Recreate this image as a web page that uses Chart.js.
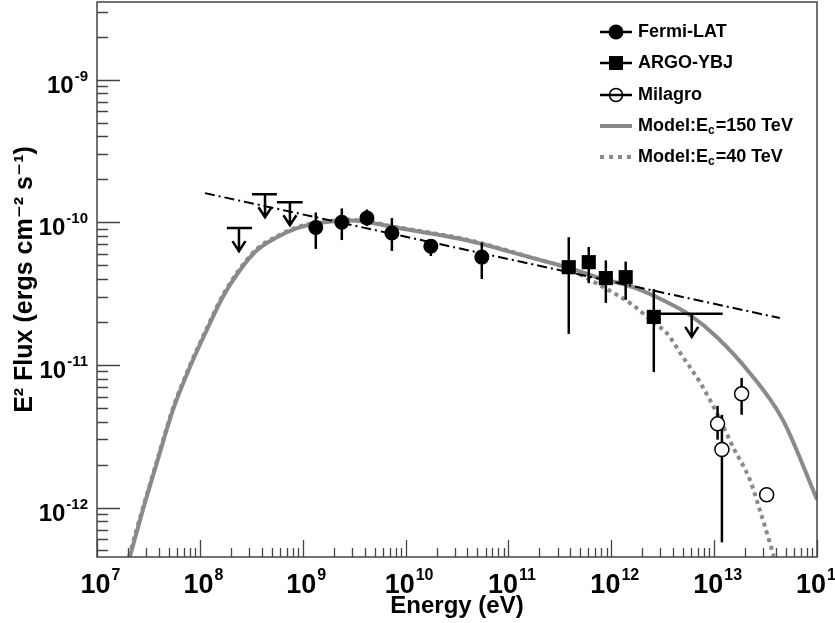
<!DOCTYPE html>
<html>
<head>
<meta charset="utf-8">
<script src="https://cdn.jsdelivr.net/npm/chart.js@4"></script>
<style>
  html, body { margin: 0; padding: 0; background: #fff; }
  #wrap { width: 835px; height: 623px; }
</style>
</head>
<body>
<div id="wrap"><canvas id="sed"></canvas></div>
<script>
// Fermi-LAT fluxes (E^2 dN/dE, erg cm^-2 s^-1) and error bar ends
const fermiE = [1.34e9, 2.40e9, 4.21e9, 7.36e9, 1.76e10, 5.51e10];
const fermiF = [9.2e-11, 1.0e-10, 1.07e-10, 8.4e-11, 6.8e-11, 5.7e-11];
const fermiHi = [1.17e-10, 1.25e-10, 1.23e-10, 1.07e-10, 7.5e-11, 7.2e-11];
const fermiLo = [6.5e-11, 7.5e-11, 9.4e-11, 6.3e-11, 5.8e-11, 4.0e-11];
// Fermi-LAT upper limits and their energy bins
const fermiUlE = [2.40e8, 4.30e8, 7.51e8];
const fermiUlF = [9.1e-11, 1.57e-10, 1.38e-10];
const fermiUlMin = [1.83e8, 3.21e8, 5.61e8];
const fermiUlMax = [3.21e8, 5.61e8, 1.0e9];

// ARGO-YBJ
const argoE = [3.86e11, 6.04e11, 8.85e11, 1.38e12, 2.59e12];
const argoF = [4.84e-11, 5.25e-11, 4.06e-11, 4.12e-11, 2.17e-11];
const argoHi = [7.85e-11, 6.7e-11, 5.4e-11, 5.3e-11, 3.4e-11];
const argoLo = [1.65e-11, 3.74e-11, 2.72e-11, 2.86e-11, 8.9e-12];
const argoUlE = [6.05e12];
const argoUlF = [2.28e-11];
const argoUlMin = [2.96e12];
const argoUlMax = [1.21e13];

// Milagro
const milagroE = [1.08e13, 1.19e13, 1.85e13, 3.24e13];
const milagroF = [3.86e-12, 2.55e-12, 6.27e-12, 1.23e-12];
const milagroHi = [5.16e-12, 4.47e-12, 8.1e-12, null];
const milagroLo = [2.99e-12, 5.7e-13, 4.47e-12, null];

// model curves
const model150E = [2.09e7, 2.80e7, 3.83e7, 5.48e7, 8.02e7, 1.17e8, 1.67e8, 2.45e8, 3.59e8, 5.61e8, 8.79e8, 1.37e9, 2.88e9, 8.81e9, 3.94e10, 1.73e11, 3.70e11, 7.73e11, 1.62e12, 3.46e12, 5.79e12, 1.06e13, 2.22e13, 4.65e13, 1.0e14];
const model150F = [4.54e-13, 9.68e-13, 2.07e-12, 4.84e-12, 9.68e-12, 1.76e-11, 2.99e-11, 4.61e-11, 6.37e-11, 7.85e-11, 9.08e-11, 9.84e-11, 1.03e-10, 9.08e-11, 7.48e-11, 5.60e-11, 4.84e-11, 4.06e-11, 3.51e-11, 2.76e-11, 2.24e-11, 1.57e-11, 8.79e-12, 4.12e-12, 1.14e-12];
const model40E = [2.05e7, 2.80e7, 3.83e7, 5.48e7, 8.02e7, 1.17e8, 1.67e8, 2.45e8, 3.59e8, 5.61e8, 8.79e8, 1.37e9, 2.88e9, 8.81e9, 3.94e10, 1.73e11, 3.70e11, 7.73e11, 1.62e12, 2.53e12, 3.46e12, 4.95e12, 7.24e12, 1.06e13, 1.52e13, 2.22e13, 2.77e13, 3.47e13, 3.79e13];
const model40F = [4.54e-13, 1.0e-12, 2.13e-12, 4.98e-12, 9.95e-12, 1.81e-11, 3.07e-11, 4.72e-11, 6.50e-11, 7.98e-11, 9.20e-11, 9.95e-11, 1.04e-10, 9.15e-11, 7.55e-11, 5.62e-11, 4.76e-11, 3.62e-11, 2.63e-11, 2.00e-11, 1.67e-11, 1.14e-11, 7.60e-12, 4.61e-12, 2.67e-12, 1.57e-12, 9.68e-13, 5.69e-13, 4.54e-13];
// power law fit (dash-dot)
const plawE = [1.12e8, 4.35e13];
const plawF = [1.60e-10, 2.13e-11];

// axes
const xDecades = [7, 8, 9, 10, 11, 12, 13, 14];
const yDecades = [-12, -11, -10, -9];

const FONT = "'Liberation Sans', Arial, 'DejaVu Sans', sans-serif";
const GRAY = '#8a8a8a';
const AXIS = '#444';

function pts(xs, ys) {
  return xs.map((x, i) => ({x: x, y: ys[i]}));
}

// vertical error bars, drawn just before the markers of a dataset
const errorBars = {
  id: 'errorBars',
  beforeDatasetDraw(chart, args) {
    const ds = chart.data.datasets[args.index];
    if (!ds.errHi) return;
    const {ctx, scales: {x, y}} = chart;
    ctx.save();
    ctx.strokeStyle = '#000';
    ctx.lineWidth = 2.5;
    ds.data.forEach((p, i) => {
      if (ds.errHi[i] == null) return;
      const px = x.getPixelForValue(p.x);
      ctx.beginPath();
      ctx.moveTo(px, y.getPixelForValue(ds.errHi[i]));
      ctx.lineTo(px, y.getPixelForValue(ds.errLo[i]));
      ctx.stroke();
    });
    ctx.restore();
  }
};

function drawUL(ctx, x, y, e, f, eMin, eMax) {
  const px = x.getPixelForValue(e);
  const py = y.getPixelForValue(f);
  ctx.beginPath();
  ctx.moveTo(x.getPixelForValue(eMin), py);
  ctx.lineTo(x.getPixelForValue(eMax), py);
  ctx.moveTo(px, py);
  ctx.lineTo(px, py + 23);
  ctx.moveTo(px - 6.5, py + 13);
  ctx.lineTo(px, py + 23);
  ctx.lineTo(px + 6.5, py + 13);
  ctx.stroke();
}

const upperLimits = {
  id: 'upperLimits',
  afterDatasetsDraw(chart) {
    const {ctx, scales: {x, y}} = chart;
    ctx.save();
    ctx.strokeStyle = '#000';
    ctx.lineWidth = 2.5;
    fermiUlE.forEach((e, i) => drawUL(ctx, x, y, e, fermiUlF[i], fermiUlMin[i], fermiUlMax[i]));
    argoUlE.forEach((e, i) => drawUL(ctx, x, y, e, argoUlF[i], argoUlMin[i], argoUlMax[i]));
    ctx.restore();
  }
};

// frame, inward ticks and 10^n labels
const frame = {
  id: 'frame',
  afterDraw(chart) {
    const {ctx, chartArea: a, scales: {x, y}} = chart;
    ctx.save();
    ctx.strokeStyle = AXIS;
    ctx.lineWidth = 1.5;
    ctx.strokeRect(a.left, a.top, a.right - a.left, a.bottom - a.top);
    ctx.lineWidth = 1.3;
    ctx.beginPath();
    for (let n = 6; n <= 14; n++) {
      for (let m = 1; m <= 9; m++) {
        const v = m * Math.pow(10, n);
        if (v < x.min || v > x.max) continue;
        const px = Math.round(x.getPixelForValue(v)) + 0.5;
        ctx.moveTo(px, a.bottom);
        ctx.lineTo(px, a.bottom - (m === 1 ? 17 : 9));
      }
    }
    for (let n = -13; n <= -9; n++) {
      for (let m = 1; m <= 9; m++) {
        const v = m * Math.pow(10, n);
        if (v < y.min || v > y.max) continue;
        const py = Math.round(y.getPixelForValue(v)) + 0.5;
        ctx.moveTo(a.left, py);
        ctx.lineTo(a.left + (m === 1 ? 23 : 11), py);
      }
    }
    ctx.stroke();

    ctx.fillStyle = '#000';
    ctx.textBaseline = 'alphabetic';
    ctx.textAlign = 'left';
    xDecades.forEach(n => {
      const px = x.getPixelForValue(Math.pow(10, n));
      ctx.font = 'bold 27px ' + FONT;
      const w1 = ctx.measureText('10').width;
      ctx.font = 'bold 16px ' + FONT;
      const w2 = ctx.measureText(String(n)).width;
      const x0 = px - (w1 + w2) / 2 + 3;
      ctx.font = 'bold 27px ' + FONT;
      ctx.fillText('10', x0, a.bottom + 36);
      ctx.font = 'bold 16px ' + FONT;
      ctx.fillText(String(n), x0 + w1 + 1, a.bottom + 23);
    });
    yDecades.forEach(n => {
      const py = y.getPixelForValue(Math.pow(10, n));
      ctx.font = 'bold 15px ' + FONT;
      const w2 = ctx.measureText(String(n)).width;
      ctx.font = 'bold 24px ' + FONT;
      const w1 = ctx.measureText('10').width;
      const x1 = a.left - 9;
      ctx.fillText('10', x1 - w2 - w1 - 1, py + 13);
      ctx.font = 'bold 15px ' + FONT;
      ctx.fillText(String(n), x1 - w2, py + 1);
    });
    ctx.restore();
  }
};

// legend box in the upper right corner
const legendBox = {
  id: 'legendBox',
  afterDraw(chart) {
    const ctx = chart.ctx;
    const x0 = 600, x1 = 632, xm = 616, xt = 638;
    const rows = [32, 63, 95, 126, 157];
    ctx.save();
    ctx.strokeStyle = '#000';
    ctx.fillStyle = '#000';
    ctx.lineWidth = 2.5;
    rows.slice(0, 3).forEach(r => {
      ctx.beginPath();
      ctx.moveTo(x0, r);
      ctx.lineTo(x1, r);
      ctx.stroke();
    });
    ctx.beginPath();
    ctx.arc(xm, rows[0], 7.5, 0, Math.PI * 2);
    ctx.fill();
    ctx.fillRect(xm - 7, rows[1] - 7, 14, 14);
    ctx.lineWidth = 1.5;
    ctx.beginPath();
    ctx.arc(xm, rows[2], 6.5, 0, Math.PI * 2);
    ctx.stroke();

    ctx.strokeStyle = GRAY;
    ctx.lineWidth = 4;
    ctx.beginPath();
    ctx.moveTo(x0, rows[3]);
    ctx.lineTo(x1, rows[3]);
    ctx.stroke();
    ctx.setLineDash([4, 5]);
    ctx.beginPath();
    ctx.moveTo(x0, rows[4]);
    ctx.lineTo(x1, rows[4]);
    ctx.stroke();
    ctx.setLineDash([]);

    ctx.fillStyle = '#000';
    ctx.textBaseline = 'middle';
    ctx.font = 'bold 18px ' + FONT;
    ctx.fillText('Fermi-LAT', xt, rows[0]);
    ctx.fillText('ARGO-YBJ', xt, rows[1]);
    ctx.fillText('Milagro', xt, rows[2]);
    [['150 TeV', rows[3]], ['40 TeV', rows[4]]].forEach(([t, r]) => {
      ctx.font = 'bold 18px ' + FONT;
      let w = ctx.measureText('Model:E').width;
      ctx.fillText('Model:E', xt, r);
      ctx.font = 'bold 12px ' + FONT;
      ctx.fillText('c', xt + w, r + 5);
      w += ctx.measureText('c').width + 1;
      ctx.font = 'bold 18px ' + FONT;
      ctx.fillText('=' + t, xt + w, r);
    });
    ctx.restore();
  }
};

const chart = new Chart(document.getElementById('sed'), {
  type: 'line',
  data: {
    datasets: [
      {
        label: 'Fermi-LAT', data: pts(fermiE, fermiF), errHi: fermiHi, errLo: fermiLo,
        showLine: false, pointStyle: 'circle', pointRadius: 7.5,
        pointBackgroundColor: '#000', pointBorderColor: '#000', pointBorderWidth: 0
      },
      {
        label: 'ARGO-YBJ', data: pts(argoE, argoF), errHi: argoHi, errLo: argoLo,
        showLine: false, pointStyle: 'rect', pointRadius: 10,
        pointBackgroundColor: '#000', pointBorderColor: '#000', pointBorderWidth: 0
      },
      {
        label: 'Milagro', data: pts(milagroE, milagroF), errHi: milagroHi, errLo: milagroLo,
        showLine: false, pointStyle: 'circle', pointRadius: 7,
        pointBackgroundColor: '#fff', pointBorderColor: '#000', pointBorderWidth: 1.5
      },
      {
        label: 'Power law', data: pts(plawE, plawF),
        borderColor: '#000', borderWidth: 2, borderDash: [10, 4, 2, 4], pointRadius: 0
      },
      {
        label: 'Model:Ec=40 TeV', data: pts(model40E, model40F),
        borderColor: GRAY, borderWidth: 4, borderDash: [4, 4], pointRadius: 0,
        cubicInterpolationMode: 'monotone'
      },
      {
        label: 'Model:Ec=150 TeV', data: pts(model150E, model150F),
        borderColor: GRAY, borderWidth: 4, pointRadius: 0,
        cubicInterpolationMode: 'monotone'
      }
    ]
  },
  options: {
    responsive: true,
    maintainAspectRatio: false,
    animation: false,
    layout: {autoPadding: false, padding: {top: 2, right: 18, left: 0, bottom: 0}},
    plugins: {legend: {display: false}, tooltip: {enabled: false}},
    scales: {
      x: {
        type: 'logarithmic', min: 1e7, max: 1e14,
        ticks: {display: false}, grid: {display: false}, border: {display: false},
        title: {display: true, text: 'Energy (eV)', color: '#000',
                font: {family: FONT, size: 24, weight: 'bold'}, padding: {top: 0, bottom: 2}},
        afterFit(scale) { scale.height = 66; }
      },
      y: {
        type: 'logarithmic', min: 4.5e-13, max: 3.5e-9,
        ticks: {display: false}, grid: {display: false}, border: {display: false},
        title: {display: true, text: 'E² Flux (ergs cm⁻² s⁻¹)', color: '#000',
                font: {family: FONT, size: 25, weight: 'bold'}, padding: {top: 10, bottom: 0}},
        afterFit(scale) { scale.width = 97; }
      }
    }
  },
  plugins: [errorBars, upperLimits, frame, legendBox]
});
</script>
</body>
</html>
